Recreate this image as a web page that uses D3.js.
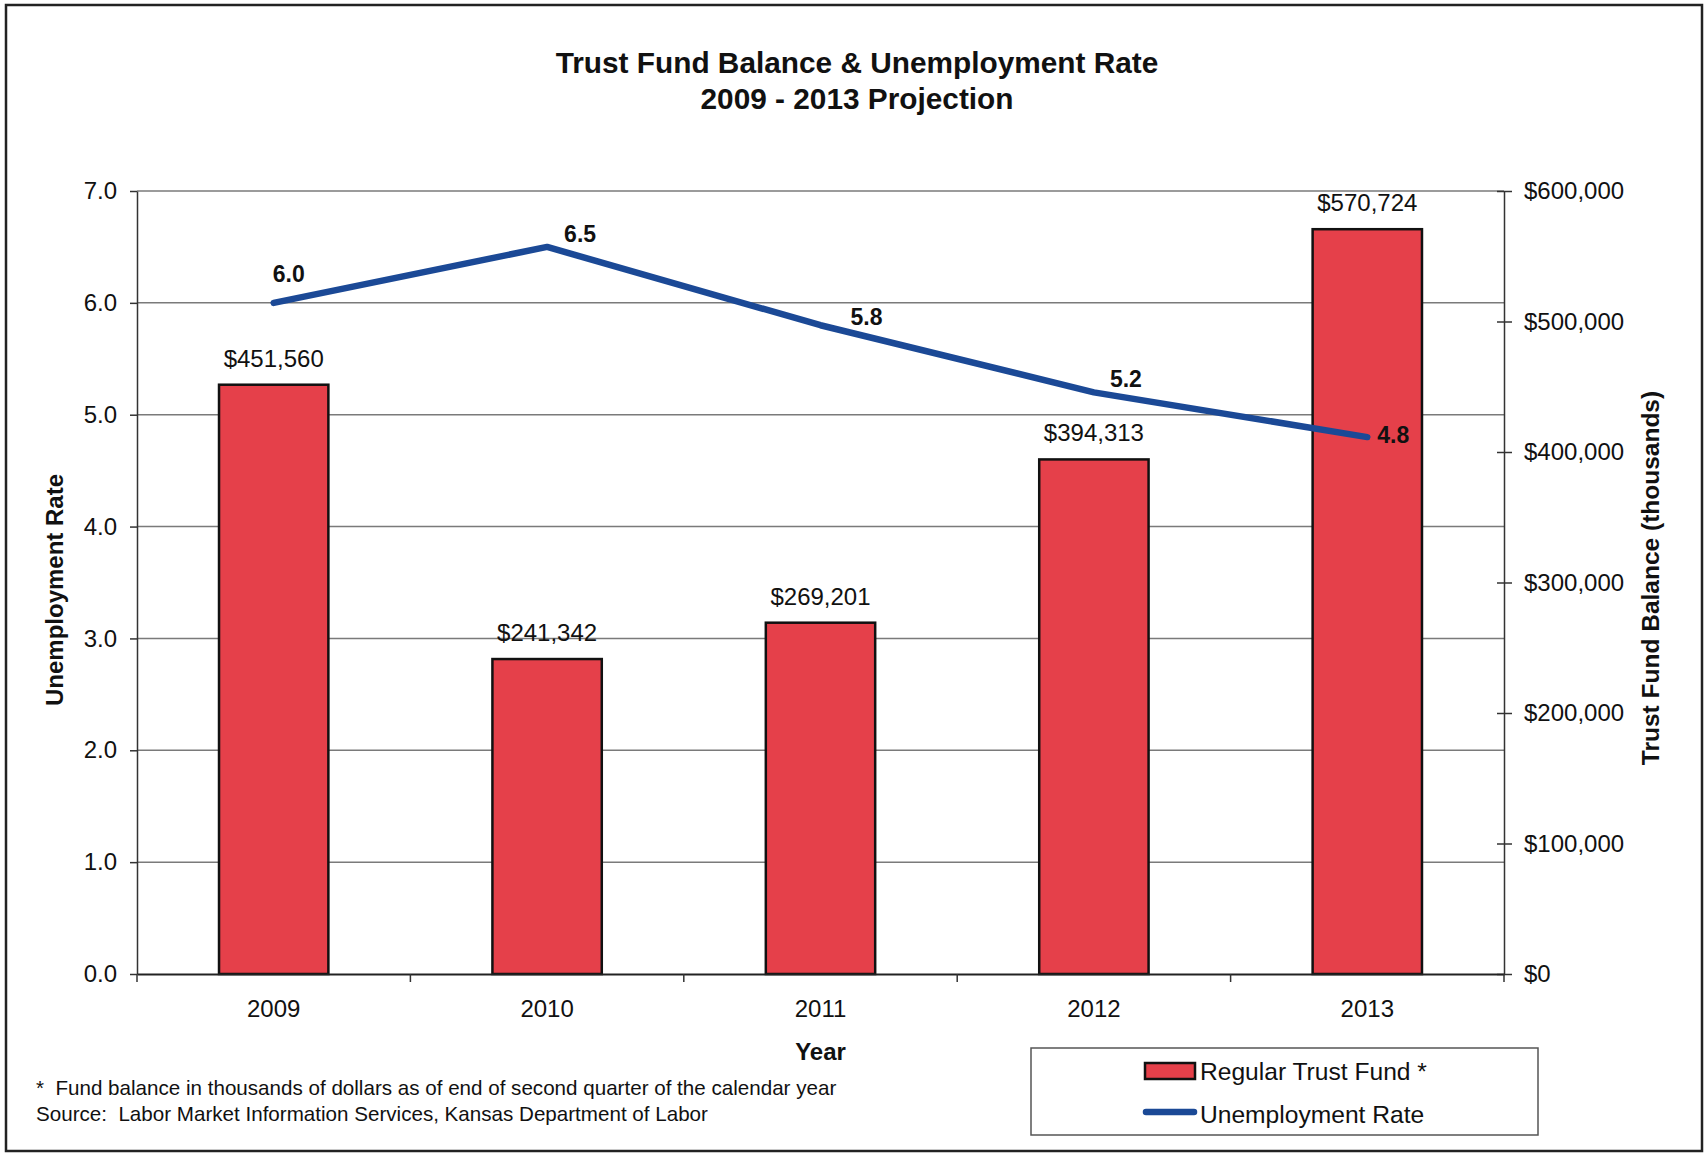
<!DOCTYPE html>
<html>
<head>
<meta charset="utf-8">
<script src="https://cdn.jsdelivr.net/npm/d3@7"></script>
<style>
body { margin: 0; background: #fff; }
text { font-family: "Liberation Sans", Arial, sans-serif; fill: #111; }
</style>
</head>
<body>
<svg id="chart"></svg>
<script>
// chart data
var years = ["2009", "2010", "2011", "2012", "2013"];
var fundBalance = [451560, 241342, 269201, 394313, 570724];
var unemploymentRate = [6.0, 6.5, 5.8, 5.2, 4.8];
var rateTicks = [0, 1, 2, 3, 4, 5, 6, 7];
var fundTicks = [0, 100000, 200000, 300000, 400000, 500000, 600000];
var footnotes = [
  "*  Fund balance in thousands of dollars as of end of second quarter of the calendar year",
  "Source:  Labor Market Information Services, Kansas Department of Labor"
];
// where each rate label sits relative to its point (dx, dy)
var rateLabelOffsets = [[15, -21], [33, -5], [46, 0], [32, -5], [26, 6]];

var width = 1705, height = 1154;
var plotLeft = 137, plotRight = 1504, plotTop = 191, plotBottom = 974;

var svg = d3.select("#chart")
  .attr("width", width)
  .attr("height", height);

svg.append("rect")
  .attr("x", 6).attr("y", 5)
  .attr("width", 1696).attr("height", 1146)
  .attr("fill", "#fff")
  .attr("stroke", "#222")
  .attr("stroke-width", 2.5);

var x = d3.scaleBand().domain(years).range([plotLeft, plotRight]);
var yRate = d3.scaleLinear().domain([0, 7]).range([plotBottom, plotTop]);
var yFund = d3.scaleLinear().domain([0, 600000]).range([plotBottom, plotTop]);

// gridlines
svg.append("g").selectAll("line")
  .data(rateTicks.filter(function (d) { return d > 0; }))
  .enter().append("line")
  .attr("x1", plotLeft).attr("x2", plotRight)
  .attr("y1", function (d) { return yRate(d); })
  .attr("y2", function (d) { return yRate(d); })
  .attr("stroke", "#7a7a7a")
  .attr("stroke-width", 1.5);

// bars
var barW = x.bandwidth() * 0.4;
svg.append("g").selectAll("rect")
  .data(fundBalance)
  .enter().append("rect")
  .attr("x", function (d, i) { return x(years[i]) + (x.bandwidth() - barW) / 2; })
  .attr("y", function (d) { return yFund(d); })
  .attr("width", barW)
  .attr("height", function (d) { return plotBottom - yFund(d); })
  .attr("fill", "#e5404a")
  .attr("stroke", "#111")
  .attr("stroke-width", 2.5);

// bar labels
svg.append("g").selectAll("text")
  .data(fundBalance)
  .enter().append("text")
  .attr("x", function (d, i) { return x(years[i]) + x.bandwidth() / 2; })
  .attr("y", function (d) { return yFund(d) - 18; })
  .attr("text-anchor", "middle")
  .attr("font-size", "24px")
  .text(function (d) { return "$" + d3.format(",")(d); });

// left axis
var leftAxis = svg.append("g")
  .attr("transform", "translate(" + plotLeft + ",0)")
  .call(d3.axisLeft(yRate).tickValues(rateTicks).tickFormat(d3.format(".1f"))
    .tickSizeInner(7).tickSizeOuter(0).tickPadding(13));
leftAxis.select(".domain").attr("stroke", "#333").attr("stroke-width", 1.5);
leftAxis.selectAll(".tick line").attr("stroke", "#333").attr("stroke-width", 1.5);
leftAxis.selectAll(".tick text").attr("font-size", "24px").attr("font-family", null).style("fill", "#111");

// right axis
var rightAxis = svg.append("g")
  .attr("transform", "translate(" + plotRight + ",0)")
  .call(d3.axisRight(yFund).tickValues(fundTicks).tickFormat(function (d) { return "$" + d3.format(",")(d); })
    .tickSizeInner(8).tickSizeOuter(0).tickPadding(12));
rightAxis.select(".domain").attr("stroke", "#333").attr("stroke-width", 1.5);
rightAxis.selectAll(".tick line").attr("x1", -7).attr("stroke", "#333").attr("stroke-width", 1.5);
rightAxis.selectAll(".tick text").attr("font-size", "24px").attr("font-family", null).style("fill", "#111");

// bottom axis
var bottomAxis = svg.append("g")
  .attr("transform", "translate(0," + plotBottom + ")")
  .call(d3.axisBottom(x).tickSize(0).tickPadding(26));
bottomAxis.select(".domain").attr("stroke", "#222").attr("stroke-width", 2);
bottomAxis.selectAll(".tick text").attr("font-size", "24px").attr("font-family", null).style("fill", "#111");
bottomAxis.selectAll("line.sep")
  .data(years.map(function (d) { return x(d); }).concat([plotRight]))
  .enter().append("line")
  .attr("class", "sep")
  .attr("x1", function (d) { return d; }).attr("x2", function (d) { return d; })
  .attr("y1", 0).attr("y2", 8)
  .attr("stroke", "#333").attr("stroke-width", 1.5);

// unemployment line
var line = d3.line()
  .x(function (d, i) { return x(years[i]) + x.bandwidth() / 2; })
  .y(function (d) { return yRate(d); });
svg.append("path")
  .datum(unemploymentRate)
  .attr("d", line)
  .attr("fill", "none")
  .attr("stroke", "#1b4996")
  .attr("stroke-width", 6.5)
  .attr("stroke-linecap", "round")
  .attr("stroke-linejoin", "round");

svg.append("g").selectAll("text")
  .data(unemploymentRate)
  .enter().append("text")
  .attr("x", function (d, i) { return x(years[i]) + x.bandwidth() / 2 + rateLabelOffsets[i][0]; })
  .attr("y", function (d, i) { return yRate(d) + rateLabelOffsets[i][1]; })
  .attr("text-anchor", "middle")
  .attr("font-size", "23px")
  .attr("font-weight", "bold")
  .text(function (d) { return d3.format(".1f")(d); });

// titles
svg.append("text")
  .attr("x", 857).attr("y", 73)
  .attr("text-anchor", "middle")
  .attr("font-size", "29.8px").attr("font-weight", "bold")
  .text("Trust Fund Balance & Unemployment Rate");
svg.append("text")
  .attr("x", 857).attr("y", 109)
  .attr("text-anchor", "middle")
  .attr("font-size", "29.8px").attr("font-weight", "bold")
  .text("2009 - 2013 Projection");

svg.append("text")
  .attr("transform", "translate(63,590) rotate(-90)")
  .attr("text-anchor", "middle")
  .attr("font-size", "24px").attr("font-weight", "bold")
  .text("Unemployment Rate");
svg.append("text")
  .attr("transform", "translate(1659,578) rotate(-90)")
  .attr("text-anchor", "middle")
  .attr("font-size", "24.5px").attr("font-weight", "bold")
  .text("Trust Fund Balance (thousands)");
svg.append("text")
  .attr("x", (plotLeft + plotRight) / 2).attr("y", 1060)
  .attr("text-anchor", "middle")
  .attr("font-size", "24px").attr("font-weight", "bold")
  .text("Year");

// footnotes
svg.append("g").selectAll("text")
  .data(footnotes)
  .enter().append("text")
  .attr("x", 36)
  .attr("y", function (d, i) { return 1095 + i * 26; })
  .attr("font-size", "20.6px")
  .style("white-space", "pre")
  .text(function (d) { return d; });

// legend
var legend = svg.append("g");
legend.append("rect")
  .attr("x", 1031).attr("y", 1048)
  .attr("width", 507).attr("height", 87)
  .attr("fill", "#fff")
  .attr("stroke", "#555").attr("stroke-width", 1.5);
legend.append("rect")
  .attr("x", 1145).attr("y", 1063)
  .attr("width", 50).attr("height", 16)
  .attr("fill", "#e5404a")
  .attr("stroke", "#111").attr("stroke-width", 2.5);
legend.append("text")
  .attr("x", 1200).attr("y", 1080)
  .attr("font-size", "24.6px")
  .text("Regular Trust Fund *");
legend.append("line")
  .attr("x1", 1146).attr("x2", 1194)
  .attr("y1", 1112).attr("y2", 1112)
  .attr("stroke", "#1b4996").attr("stroke-width", 6.5)
  .attr("stroke-linecap", "round");
legend.append("text")
  .attr("x", 1200).attr("y", 1123)
  .attr("font-size", "24.6px")
  .text("Unemployment Rate");
</script>
</body>
</html>
